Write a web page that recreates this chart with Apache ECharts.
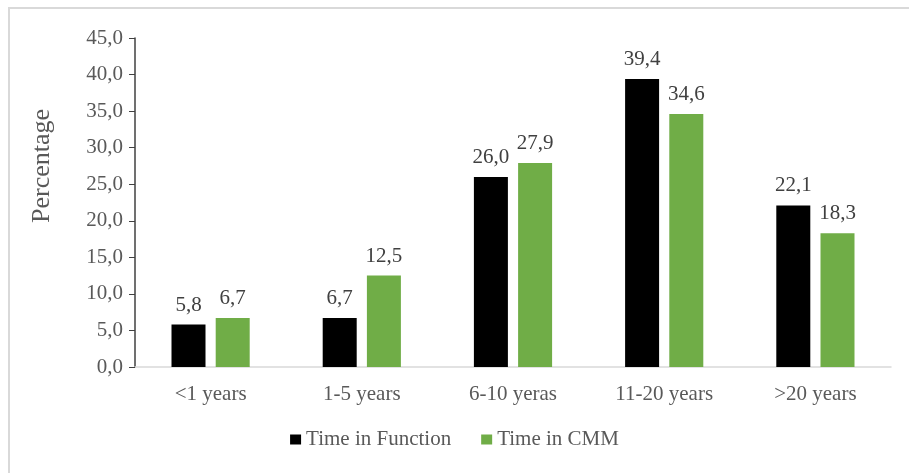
<!DOCTYPE html>
<html>
<head>
<meta charset="utf-8">
<script src="https://cdn.jsdelivr.net/npm/echarts@6/dist/echarts.min.js"></script>
<style>
html,body{margin:0;padding:0;background:#fff;}
#chart{width:909px;height:473px;}
</style>
</head>
<body>
<div id="chart"></div>
<script>
const categories = ['<1 years', '1-5 years', '6-10 yeras', '11-20 years', '>20 years'];
const timeInFunction = [5.8, 6.7, 26.0, 39.4, 22.1];
const timeInCMM = [6.7, 12.5, 27.9, 34.6, 18.3];
const seriesNames = ['Time in Function', 'Time in CMM'];

const serif = '"Liberation Serif", "DejaVu Serif", serif';
const fmt = v => v.toFixed(1).replace('.', ',');

const chart = echarts.init(document.getElementById('chart'));
chart.setOption({
  animation: false,
  backgroundColor: '#fff',
  textStyle: { fontFamily: serif },
  graphic: [
    {
      type: 'polyline',
      shape: { points: [[9, 473], [9, 8], [909, 8]] },
      style: { fill: 'none', stroke: '#d9d9d9', lineWidth: 2 },
      silent: true
    },
    {
      type: 'text',
      x: 42, y: 166,
      rotation: Math.PI / 2,
      style: {
        text: 'Percentage',
        font: '26px ' + serif,
        fill: '#595959',
        align: 'center',
        verticalAlign: 'middle'
      }
    }
  ],
  legend: {
    bottom: 18,
    left: 'center',
    itemWidth: 11,
    itemHeight: 10,
    itemGap: 30,
    icon: 'rect',
    textStyle: { fontFamily: serif, fontSize: 21, color: '#595959' },
    data: seriesNames
  },
  grid: { left: 135, right: 18, top: 38, bottom: 106 },
  xAxis: {
    type: 'category',
    data: categories,
    axisLine: { lineStyle: { color: '#d9d9d9', width: 1.5 } },
    axisTick: { show: false },
    axisLabel: { fontFamily: serif, fontSize: 21, color: '#595959', margin: 17 }
  },
  yAxis: {
    type: 'value',
    min: 0, max: 45, interval: 5,
    axisLine: { show: true, lineStyle: { color: '#404040', width: 1.5 } },
    axisTick: { show: true, inside: false, length: 6, lineStyle: { color: '#404040' } },
    splitLine: { show: false },
    axisLabel: { fontFamily: serif, fontSize: 21, color: '#595959', margin: 12, formatter: v => fmt(v) }
  },
  series: [
    {
      name: seriesNames[0],
      type: 'bar',
      data: timeInFunction,
      barWidth: 34,
      barGap: '30%',
      itemStyle: { color: '#000000' },
      label: { show: true, position: 'top', distance: 9, fontFamily: serif, fontSize: 21, color: '#404040', formatter: p => fmt(p.value) }
    },
    {
      name: seriesNames[1],
      type: 'bar',
      data: timeInCMM,
      barWidth: 34,
      itemStyle: { color: '#70ad47' },
      label: { show: true, position: 'top', distance: 9, fontFamily: serif, fontSize: 21, color: '#404040', formatter: p => fmt(p.value) }
    }
  ]
});
</script>
</body>
</html>
